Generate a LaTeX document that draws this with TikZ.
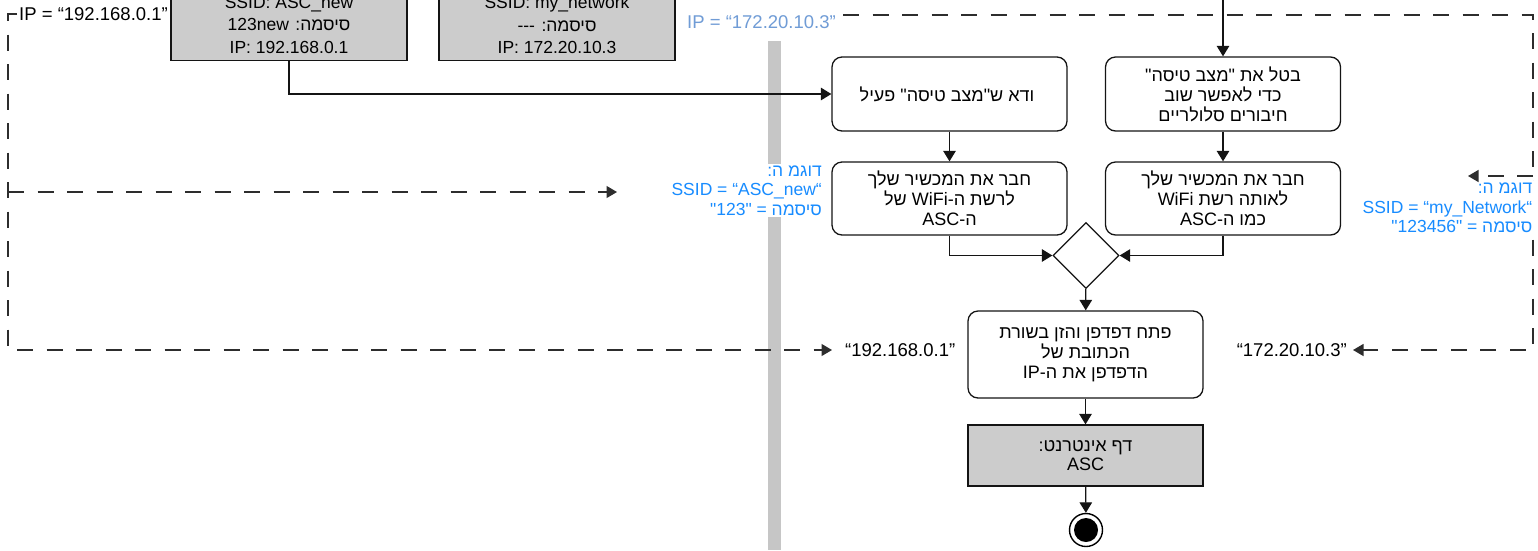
\documentclass[tikz,border=0pt]{standalone}
\usepackage{fontspec}
\setmainfont{Liberation Sans}
\newfontfamily\hebfont[Script=Hebrew]{Liberation Sans}
\TeXXeTstate=1
\usetikzlibrary{arrows.meta,shapes.geometric,calc}
\definecolor{ASCgray}{RGB}{204,204,204}
\definecolor{ASCbar}{RGB}{198,198,198}
\definecolor{ASCline}{RGB}{20,20,20}
\definecolor{ASCdash}{RGB}{45,45,45}
\definecolor{ASCipblue}{RGB}{112,156,214}
\definecolor{ASCnote}{RGB}{24,140,255}
\newcommand{\hebline}[1]{\leavevmode{\hebfont\beginR #1\endR}}
\tikzset{
  asc step/.style={
    draw=ASCline,
    line width=1.3pt,
    rounded corners=10pt,
    fill=white,
    minimum width=235pt,
    align=center,
    inner sep=3pt,
    font=\fontsize{18}{20}\selectfont
  },
  asc info/.style={
    draw=ASCline,
    line width=1.3pt,
    fill=ASCgray,
    minimum width=236pt,
    align=center,
    inner sep=3pt,
    font=\fontsize{17.5}{22.5}\selectfont
  },
  asc merge/.style={diamond,draw=ASCline,line width=1.3pt,fill=white,
    minimum width=66pt,minimum height=66pt,inner sep=0pt},
  asc end/.style={circle,draw=black,line width=1.4pt,fill=white,
    minimum size=33pt,inner sep=0pt},
  asc arrow/.style={-{Triangle[length=10.5pt,width=12.5pt]},line width=1.3pt,draw=ASCline},
  asc link/.style={line width=1.3pt,draw=ASCdash,dash pattern=on 16pt off 13.5pt},
  asc linkarrow/.style={asc link,-{Triangle[length=10.5pt,width=12pt]}},
  asc ip/.style={font=\fontsize{18.5}{21}\selectfont,inner sep=2pt,fill=white},
  asc note/.style={
    text=ASCnote,
    align=right,
    fill=white,
    inner sep=2pt,
    font=\fontsize{17.5}{19.5}\selectfont
  }
}
\begin{document}
\begin{tikzpicture}[x=1pt,y=-1pt]
  \useasboundingbox (0,0) rectangle (1538,550);
  \clip (0,0) rectangle (1538,550);

  \node[fill=ASCbar,minimum width=13pt,minimum height=509pt,inner sep=0pt,anchor=north]
    (divider) at (774.5,41) {};

  \node[asc info,minimum height=71pt,anchor=south] (ascnet) at (289,61) {
    SSID: ASC\_new\\
    \hebline{סיסמה: 123new}\\
    IP: 192.168.0.1
  };
  \node[asc info,minimum height=71pt,anchor=south] (mynet) at (557,61) {
    SSID: my\_network\\
    \hebline{סיסמה: {-}{-}{-}}\\
    IP: 172.20.10.3
  };

  \node[asc step,minimum height=74pt] (airon) at (949.5,94) {
    \hebline{ודא ש"מצב טיסה" פעיל}
  };
  \node[asc step,minimum height=74pt] (airoff) at (1223,94) {
    \hebline{בטל את "מצב טיסה"}\\
    \hebline{כדי לאפשר שוב}\\
    \hebline{חיבורים סלולריים}
  };
  \node[asc step,minimum height=73pt] (joinasc) at (949.5,198.5) {
    \hebline{חבר את המכשיר שלך}\\
    \hebline{לרשת ה-WiFi של}\\
    \hebline{ה-ASC}
  };
  \node[asc step,minimum height=73pt] (joinsame) at (1223,198.5) {
    \hebline{חבר את המכשיר שלך}\\
    \hebline{לאותה רשת WiFi}\\
    \hebline{כמו ה-ASC}
  };
  \node[asc merge] (merge) at (1086,255.5) {};
  \node[asc step,minimum height=87pt] (browser) at (1085.5,354.5) {
    \hebline{פתח דפדפן והזן בשורת}\\
    \hebline{הכתובת של}\\
    \hebline{הדפדפן את ה-IP}
  };
  \node[asc info,minimum width=235pt,minimum height=61pt,
    font=\fontsize{18}{18.5}\selectfont] (webpage) at (1085.5,455.5) {
    \hebline{דף אינטרנט:}\\
    ASC
  };
  \node[asc end] (done) at (1086,530) {};
  \fill[black] (done.center) circle (12pt);

  \node[asc ip,anchor=west] (ipasc) at (17,14) {IP = “192.168.0.1”};
  \node[asc ip,anchor=west,text=ASCipblue] (ipmy) at (685,22) {IP = “172.20.10.3”};
  \node[asc ip,anchor=west] (gotoasc) at (843,350) {“192.168.0.1”};
  \node[asc ip,anchor=east] (gotomy) at (1349,350) {“172.20.10.3”};

  \coordinate (ipmyout) at (843,15);
  \draw[asc linkarrow,shorten >=11pt] (ipasc.west) -| (8,350) -- (gotoasc.west);
  \draw[asc linkarrow,shorten >=4pt] (ipmyout) -- (1533,15) -- (1533,350) -- (gotomy.east);

  \node[asc note,anchor=east] (noteasc) at (824,190.5) {
    \hebline{דוגמ ה:}\\
    SSID = “ASC\_new“\\
    \hebline{סיסמה = "123"}
  };
  \node[asc note,anchor=east] (notemy) at (1534.5,208) {
    \hebline{דוגמ ה:}\\
    SSID = “my\_Network“\\
    \hebline{סיסמה = "123456"}
  };

  \coordinate (forkasc) at (8,192);
  \coordinate (tipasc) at (617,192);
  \coordinate (forkmy) at (1533,176);
  \coordinate (tipmy) at (1468,176);
  \draw[asc linkarrow] (forkasc) -- (tipasc);
  \draw[asc linkarrow] (forkmy) -- (tipmy);

  \coordinate (fromabove) at (1223,-2);
  \draw[asc arrow] (ascnet.south) |- (airon.west);
  \draw[asc arrow] (fromabove) -- (airoff.north);
  \draw[asc arrow] (airon) -- (joinasc);
  \draw[asc arrow] (airoff) -- (joinsame);
  \draw[asc arrow] (joinasc.south) |- (merge.west);
  \draw[asc arrow] (joinsame.south) |- (merge.east);
  \draw[asc arrow] (merge) -- (browser);
  \draw[asc arrow] (browser) -- (webpage);
  \draw[asc arrow] (webpage) -- (done);
\end{tikzpicture}
\end{document}
